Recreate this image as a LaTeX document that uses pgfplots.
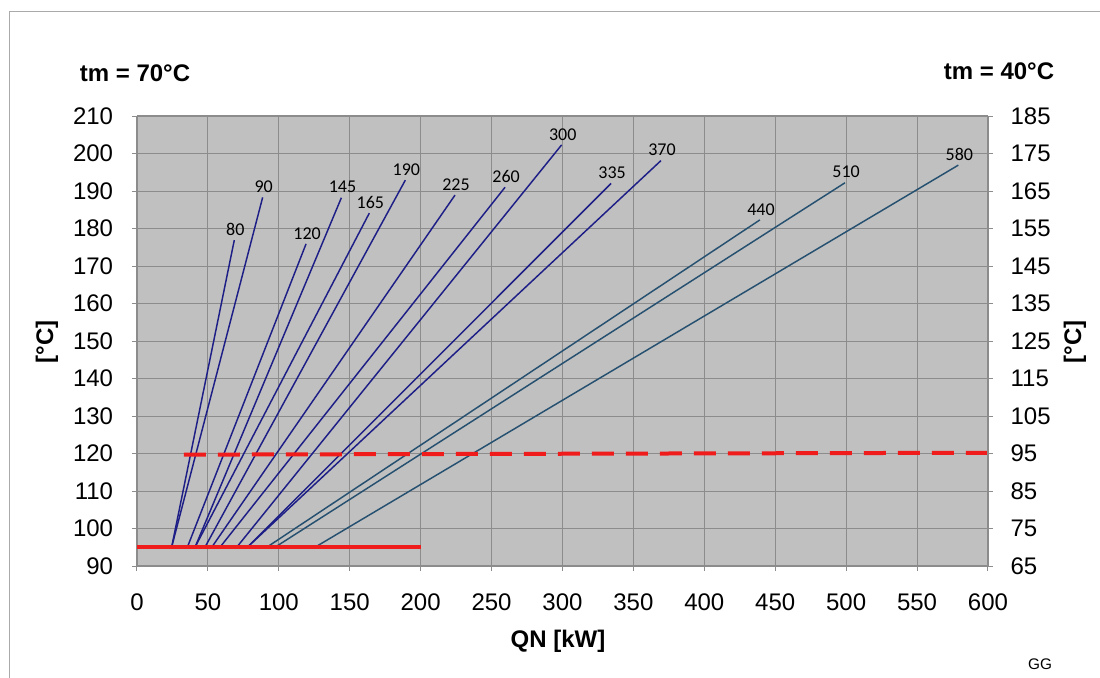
\documentclass[border=0pt]{standalone}
\usepackage{fontspec}
\setmainfont{Liberation Sans}
\newfontfamily\carlito{Carlito}
\usepackage{pgfplots}
\pgfplotsset{compat=1.18}
\definecolor{bgGray}{RGB}{192,192,192}
\definecolor{gridGray}{RGB}{140,140,140}
\definecolor{navyL}{RGB}{30,30,135}
\definecolor{tealL}{RGB}{38,80,112}
\definecolor{redL}{RGB}{240,28,28}
\definecolor{frameGray}{RGB}{170,170,170}
\tikzset{lbl/.style={anchor=south, inner sep=0pt, yshift=3pt, xshift=0.8pt, text=black, font=\carlito\fontsize{13.5pt}{14pt}\selectfont}}
\begin{document}
\begin{tikzpicture}
\path[use as bounding box] (0pt,0pt) rectangle (825pt,-508.5pt);
\draw[frameGray, line width=0.75pt] (6.75pt,-508.5pt) -- (6.75pt,-8.25pt) -- (825pt,-8.25pt);
\pgfplotsset{
  every axis/.append style={
    at={(102.75pt,-87pt)}, anchor=north west,
    scale only axis, width=638.25pt, height=337.5pt,
    /pgf/number format/assume math mode=true,
    tick label style={font=\fontsize{18pt}{20pt}\selectfont, inner sep=0pt},
    tick align=outside, major tick length=3.75pt,
    tick style={gridGray, line width=0.75pt},
  }
}
\begin{axis}[
  xmin=0, xmax=600, ymin=90, ymax=210,
  xtick={0,50,...,600}, ytick={90,100,...,210},
  axis y line*=left, axis x line*=bottom,
  grid=major, major grid style={gridGray, line width=0.75pt},
  axis line style={gridGray, line width=0.9pt},
  axis background/.style={fill=bgGray},
  yticklabel style={anchor=east, xshift=-14pt},
  xticklabel style={anchor=north, yshift=-17pt},
  clip=false,
]
\draw[gridGray, line width=0.9pt] (axis cs:0,210) -- (axis cs:600,210);
\addplot[navyL, line width=1.1pt] coordinates {(24.4,95) (68.6,176.9)} node[lbl, pos=1] {80};
\addplot[navyL, line width=1.1pt] coordinates {(24.4,95) (88.6,188.3)} node[lbl, pos=1] {90};
\addplot[navyL, line width=1.1pt] coordinates {(35.5,95) (119.2,175.9)} node[lbl, pos=1] {120};
\addplot[navyL, line width=1.1pt] coordinates {(40.9,95) (144.1,188.2)} node[lbl, pos=1] {145};
\addplot[navyL, line width=1.1pt] coordinates {(40.9,95) (163.8,184.1)} node[lbl, pos=1] {165};
\addplot[navyL, line width=1.1pt] coordinates {(47.9,95) (189.2,192.9)} node[lbl, pos=1] {190};
\addplot[navyL, line width=1.1pt] coordinates {(52.7,95) (224.2,188.9)} node[lbl, pos=1] {225};
\addplot[navyL, line width=1.1pt] coordinates {(58.5,95) (259.5,191.0)} node[lbl, pos=1] {260};
\addplot[navyL, line width=1.1pt] coordinates {(70.3,95) (299.4,202.3)} node[lbl, pos=1] {300};
\addplot[navyL, line width=1.1pt] coordinates {(77.8,95) (334.2,192.0)} node[lbl, pos=1] {335};
\addplot[navyL, line width=1.1pt] coordinates {(77.8,95) (369.4,198.1)} node[lbl, pos=1] {370};
\addplot[tealL, line width=1.1pt] coordinates {(91.5,95) (439.2,182.3)} node[lbl, pos=1] {440};
\addplot[tealL, line width=1.1pt] coordinates {(97.3,95) (499.2,192.2)} node[lbl, pos=1] {510};
\addplot[tealL, line width=1.1pt] coordinates {(125.5,95) (579.1,196.9)} node[lbl, pos=1] {580};
\addplot[redL, line width=3pt] coordinates {(0,95) (200,95)};
\addplot[redL, line width=3pt, dash pattern=on 16.5pt off 9pt] coordinates {(33,119.7) (600,120.2)};
\end{axis}
\begin{axis}[
  xmin=0, xmax=600, ymin=65, ymax=185,
  ytick={65,75,...,185},
  axis y line*=right, axis x line=none,
  axis line style={gridGray, line width=0.9pt},
  yticklabel style={anchor=west, xshift=13pt},
]
\end{axis}
\node[font=\bfseries\fontsize{18pt}{20pt}\selectfont] at (101.25pt,-54.75pt) {tm = 70°C};
\node[font=\bfseries\fontsize{18pt}{20pt}\selectfont] at (749.25pt,-53.25pt) {tm = 40°C};
\node[font=\bfseries\fontsize{18pt}{20pt}\selectfont, rotate=90] at (35.25pt,-256.5pt) {[°C]};
\node[font=\bfseries\fontsize{18pt}{20pt}\selectfont, rotate=90] at (806.25pt,-256.5pt) {[°C]};
\node[font=\bfseries\fontsize{18pt}{20pt}\selectfont] at (418.5pt,-480.75pt) {QN [kW]};
\node[font=\fontsize{11.5pt}{12pt}\selectfont] at (780pt,-498pt) {GG};
\end{tikzpicture}
\end{document}
